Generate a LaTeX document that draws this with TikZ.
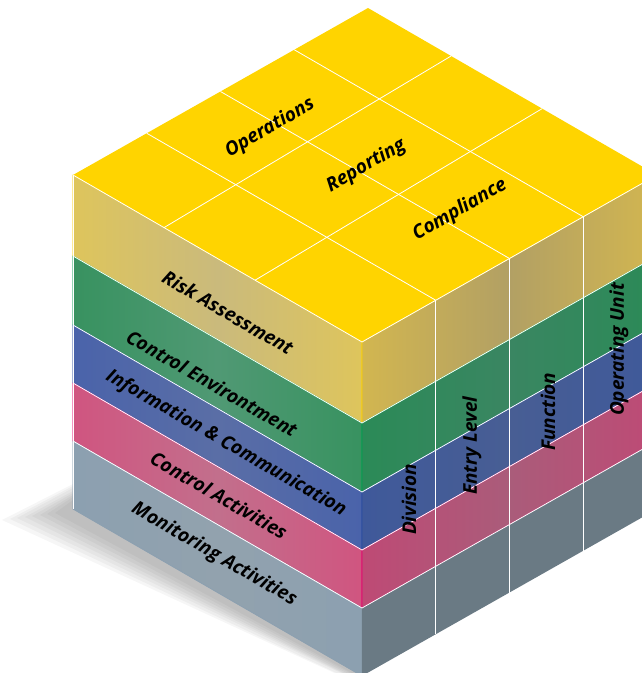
\documentclass[tikz,border=0pt]{standalone}
\usepackage{fontspec}
\setmainfont{Open Sans}
\usepackage{xcolor}

\definecolor{cubetop}{RGB}{255,212,0}
\definecolor{yelline}{RGB}{255,210,0}
\definecolor{yelL}{RGB}{222,197,92}
\definecolor{yelM}{RGB}{202,186,124}
\definecolor{yelR}{RGB}{210,182,80}
\definecolor{yelC}{RGB}{178,160,100}
\definecolor{grnline}{RGB}{0,160,80}
\definecolor{grnL}{RGB}{56,146,96}
\definecolor{grnM}{RGB}{80,153,116}
\definecolor{grnR}{RGB}{43,138,87}
\definecolor{grnC}{RGB}{58,134,98}
\definecolor{bluline}{RGB}{42,76,160}
\definecolor{bluL}{RGB}{74,99,170}
\definecolor{bluM}{RGB}{90,110,166}
\definecolor{bluR}{RGB}{63,89,154}
\definecolor{bluC}{RGB}{72,94,148}
\definecolor{pnkline}{RGB}{230,0,110}
\definecolor{pnkL}{RGB}{208,85,128}
\definecolor{pnkM}{RGB}{194,111,140}
\definecolor{pnkR}{RGB}{190,74,117}
\definecolor{pnkC}{RGB}{170,92,122}
\definecolor{gryL}{RGB}{140,160,176}
\definecolor{gryM}{RGB}{146,162,174}
\definecolor{gryR}{RGB}{106,122,132}

\begin{document}
\begin{tikzpicture}[
    x={(73.75pt,41.75pt)}, y={(0pt,1pt)}, z={(-72.25pt,41.75pt)},
    side/.style={line width=0.8pt, line join=round},
    edge/.style={draw=white, line width=0.8pt},
    shadowpart/.style={fill=black, opacity=0.035},
    txt/.style={font=\fontsize{19}{21}\selectfont\bfseries\itshape, inner sep=0pt},
    toptext/.style={txt, rotate=30},
    lefttext/.style={txt, rotate=-30},
    righttext/.style={txt, rotate=90}
]
    \useasboundingbox (-362pt,342pt) rectangle (280pt,-331pt);
    \clip (-362pt,342pt) rectangle (280pt,-331pt);

    % Shadow
    \path[shadowpart] (-289pt,-142pt) -- (-360pt,-178pt) -- (5pt,-346pt) -- (0pt,-300pt) -- cycle;
    \path[shadowpart] (-289pt,-144pt) -- (-352pt,-177pt) -- (4pt,-345pt) -- (0pt,-300pt) -- cycle;
    \path[shadowpart] (-289pt,-146pt) -- (-345pt,-176pt) -- (4pt,-343pt) -- (0pt,-300pt) -- cycle;
    \path[shadowpart] (-289pt,-149pt) -- (-337pt,-175pt) -- (3pt,-342pt) -- (0pt,-300pt) -- cycle;
    \path[shadowpart] (-289pt,-151pt) -- (-330pt,-174pt) -- (2pt,-341pt) -- (0pt,-300pt) -- cycle;
    \path[shadowpart] (-289pt,-153pt) -- (-322pt,-173pt) -- (2pt,-340pt) -- (0pt,-300pt) -- cycle;
    \path[shadowpart] (-289pt,-155pt) -- (-315pt,-172pt) -- (1pt,-338pt) -- (0pt,-300pt) -- cycle;
    \path[shadowpart] (-289pt,-158pt) -- (-307pt,-171pt) -- (1pt,-337pt) -- (0pt,-300pt) -- cycle;

    % Layers (left face)
    \shadedraw[side, draw=yelline, left color=yelL, right color=yelL, middle color=yelM] (0,0,0) -- (0,0,4) -- (0,-81,4) -- (0,-81,0) -- cycle;
    \shadedraw[side, draw=grnline, left color=grnL, right color=grnL, middle color=grnM] (0,-81,0) -- (0,-81,4) -- (0,-150,4) -- (0,-150,0) -- cycle;
    \shadedraw[side, draw=bluline, left color=bluL, right color=bluL, middle color=bluM] (0,-150,0) -- (0,-150,4) -- (0,-208,4) -- (0,-208,0) -- cycle;
    \shadedraw[side, draw=pnkline, left color=pnkL, right color=pnkL, middle color=pnkM] (0,-208,0) -- (0,-208,4) -- (0,-266,4) -- (0,-266,0) -- cycle;
    \shadedraw[side, draw=gryL, left color=gryL, right color=gryL, middle color=gryM] (0,-266,0) -- (0,-266,4) -- (0,-334,4) -- (0,-334,0) -- cycle;

    % Layers (right face)
    \shadedraw[side, draw=yelline, left color=yelR, right color=yelR, middle color=yelC] (0,0,0) -- (4,0,0) -- (4,-81,0) -- (0,-81,0) -- cycle;
    \shadedraw[side, draw=grnline, left color=grnR, right color=grnR, middle color=grnC] (0,-81,0) -- (4,-81,0) -- (4,-150,0) -- (0,-150,0) -- cycle;
    \shadedraw[side, draw=bluline, left color=bluR, right color=bluR, middle color=bluC] (0,-150,0) -- (4,-150,0) -- (4,-208,0) -- (0,-208,0) -- cycle;
    \shadedraw[side, draw=pnkline, left color=pnkR, right color=pnkR, middle color=pnkC] (0,-208,0) -- (4,-208,0) -- (4,-266,0) -- (0,-266,0) -- cycle;
    \fill[gryR] (0,-266,0) -- (4,-266,0) -- (4,-334,0) -- (0,-334,0) -- cycle;

    % Top face (objectives)
    \fill[cubetop] (0,0,0) -- (4,0,0) -- (4,0,4) -- (0,0,4) -- cycle;
    \draw[edge] (1,0,0) -- (1,0,4);
    \draw[edge] (2,0,0) -- (2,0,4);
    \draw[edge] (3,0,0) -- (3,0,4);
    \draw[edge] (0,0,1.48) -- (4,0,1.59);
    \draw[edge] (0,0,2.74) -- (4,0,2.85);

    % White borders between layers
    \draw[edge] (0,0,4) -- (0,0,0) -- (4,0,0);
    \draw[edge] (0,-81,4) -- (0,-81,0) -- (4,-81,0);
    \draw[edge] (0,-150,4) -- (0,-150,0) -- (4,-150,0);
    \draw[edge] (0,-208,4) -- (0,-208,0) -- (4,-208,0);
    \draw[edge] (0,-266,4) -- (0,-266,0) -- (4,-266,0);
    \draw[edge] (0,0,4) -- (0,-334,4);

    % Columns (right face)
    \draw[edge] (1,0,0) -- (1,-334,0);
    \draw[edge] (2,0,0) -- (2,-334,0);
    \draw[edge] (3,0,0) -- (3,-334,0);

    % Labels
    \node[toptext] (ops) at (1.907,0,3.219) {Operations};
    \node[toptext] (rep) at (2.114,0,2.102) {Reporting};
    \node[toptext] (comp) at (2.236,0,0.926) {Compliance};

    \node[lefttext] (risk) at (0,-48,1.855) {Risk Assessment};
    \node[lefttext] (env) at (0,-128,2.076) {Control Environtment};
    \node[lefttext] (info) at (0,-180,1.882) {Information \& Communication};
    \node[lefttext] (act) at (0,-236,1.979) {Control Activities};
    \node[lefttext] (mon) at (0,-298,2.048) {Monitoring Activities};

    \node[righttext] (div) at (0.637,-184,0) {Division};
    \node[righttext] (entry) at (1.492,-166,0) {Entry Level};
    \node[righttext] (func) at (2.522,-175,0) {Function};
    \node[righttext] (unit) at (3.485,-153,0) {Operating Unit};

\end{tikzpicture}
\end{document}
